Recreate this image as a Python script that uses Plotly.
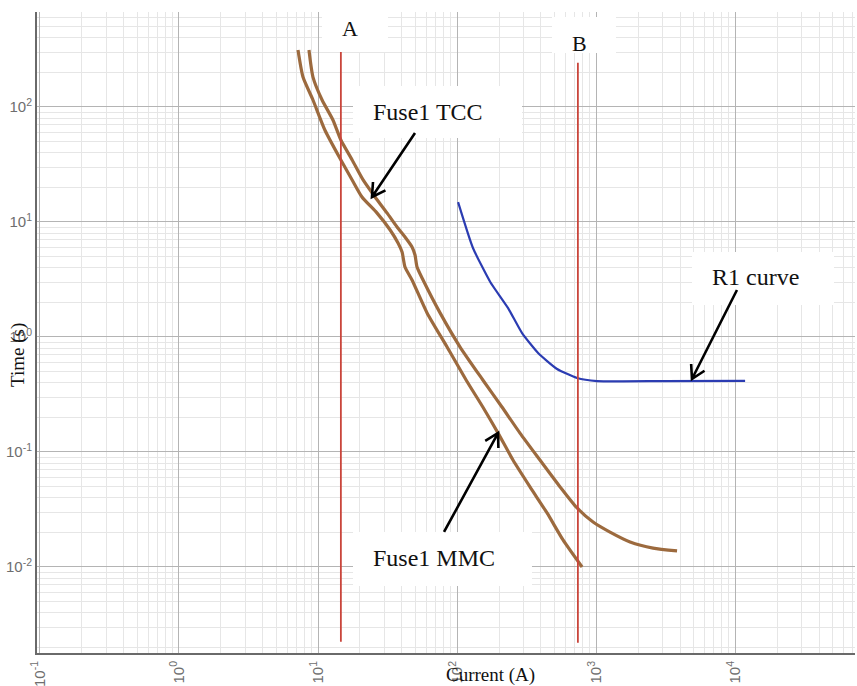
import math
import plotly.graph_objects as go

# Fuse1 total clearing curve (current in A, time in s)
tcc_current = [8.61, 9.2, 10.7, 12.8, 14.6, 17.6, 21.1, 25.7, 31.3, 37.0, 42.2, 47.4, 49.8,
               51.5, 56.9, 75.4, 105, 153, 210, 283, 394, 550, 728, 949, 1256, 1750, 2560, 3810]
tcc_time = [313, 182, 115, 77.1, 51.6, 34.6, 23.2, 16.5, 12.0, 9.04, 7.4, 6.06, 5.16,
            4.06, 3.13, 1.62, 0.818, 0.423, 0.246, 0.146, 0.0851, 0.0497, 0.0326, 0.0246,
            0.0201, 0.0165, 0.0146, 0.0138]

# Fuse1 minimum melting curve
mmc_current = [7.18, 7.8, 9.2, 11.2, 14.6, 17.6, 20.7, 26.5, 33.0, 37.6, 40.2, 42.2, 47.4,
               60.8, 84.7, 116, 153, 197, 252, 334, 443, 577, 791]
mmc_time = [313, 182, 115, 63.1, 34.6, 23.2, 16.5, 12.0, 8.52, 6.56, 5.48, 4.06, 3.13,
            1.62, 0.818, 0.423, 0.246, 0.146, 0.0851, 0.0497, 0.0295, 0.0172, 0.0100]

# Relay R1 curve
r1_current = [101.6, 130, 173, 232, 293, 382, 523, 728, 1014, 3020, 11750]
r1_time = [14.9, 5.94, 3.01, 1.79, 1.08, 0.726, 0.527, 0.44, 0.414, 0.414, 0.416]

# Fault-current markers A and B
marker_a_current = 14.6
marker_a_time = [0.00224, 300]
marker_b_current = 738
marker_b_time = [0.00219, 243]

x_tick_exponents = [-1, 0, 1, 2, 3, 4]
y_tick_exponents = [-2, -1, 0, 1, 2]

BROWN = "#9c6a3e"
BLUE = "#2b3cb2"
RED = "#c9453b"

# Plot-area size in pixels (used to turn pixel offsets into paper units)
PLOT_W, PLOT_H = 818, 641

fig = go.Figure()
fig.add_trace(go.Scatter(x=tcc_current, y=tcc_time, mode="lines",
                         line=dict(color=BROWN, width=3.2, shape="spline", smoothing=0.6),
                         name="Fuse1 TCC"))
fig.add_trace(go.Scatter(x=mmc_current, y=mmc_time, mode="lines",
                         line=dict(color=BROWN, width=3.2, shape="spline", smoothing=0.6),
                         name="Fuse1 MMC"))
fig.add_trace(go.Scatter(x=r1_current, y=r1_time, mode="lines",
                         line=dict(color=BLUE, width=2.2, shape="spline", smoothing=0.5),
                         name="R1 curve"))
fig.add_trace(go.Scatter(x=[marker_a_current] * 2, y=marker_a_time, mode="lines",
                         line=dict(color=RED, width=1.8), name="A"))
fig.add_trace(go.Scatter(x=[marker_b_current] * 2, y=marker_b_time, mode="lines",
                         line=dict(color=RED, width=1.8), name="B"))


def sup_label(p):
    return "10<sup>%d</sup>" % p


def minor_vals(exps):
    vals = []
    for e in range(min(exps) - 1, max(exps) + 2):
        for m in range(2, 10):
            vals.append(m * 10 ** e)
    return vals


tick_font = dict(family="Liberation Sans, Arial, sans-serif", size=15, color="#6e6e6e")
axis_common = dict(
    type="log",
    tickmode="array",
    showgrid=True,
    gridcolor="#b4b4b4",
    gridwidth=1,
    showline=True,
    linecolor="#6a6a6a",
    linewidth=2,
    ticks="",
    zeroline=False,
    automargin=False,
    tickfont=tick_font,
)

fig.update_xaxes(
    **axis_common,
    range=[-1.02, 4.86],
    tickvals=[10 ** e for e in x_tick_exponents],
    ticktext=[sup_label(e) for e in x_tick_exponents],
    tickangle=-90,
    minor=dict(tickmode="array", tickvals=minor_vals(x_tick_exponents),
               showgrid=True, gridcolor="#e6e6e6", gridwidth=1),
)
fig.update_yaxes(
    **axis_common,
    range=[-2.748, 2.826],
    tickvals=[10 ** e for e in y_tick_exponents],
    ticktext=[sup_label(e) for e in y_tick_exponents],
    minor=dict(tickmode="array", tickvals=minor_vals(y_tick_exponents),
               showgrid=True, gridcolor="#e6e6e6", gridwidth=1),
)

label_font = dict(family="Liberation Serif, Times New Roman, serif", size=24, color="#111111")
letter_font = dict(family="Liberation Serif, Times New Roman, serif", size=22, color="#111111")

# White label boxes (paper coordinates) with their text
boxes = [
    ("A", (0.3484, 0.4291, 0.9376, 1.0187), (0.3826, 0.975), letter_font),
    ("B", (0.6296, 0.7078, 0.9360, 0.9922), (0.6638, 0.9516), letter_font),
    ("Fuse1 TCC", (0.3863, 0.5929, 0.8034, 0.8846), (0.478, 0.844), label_font),
    ("R1 curve", (0.8007, 0.9743, 0.5429, 0.6256), (0.8778, 0.5866), label_font),
    ("Fuse1 MMC", (0.3863, 0.6051, 0.1045, 0.1888), (0.4853, 0.1482), label_font),
]
for text, (x0, x1, y0, y1), (tx, ty), font in boxes:
    fig.add_shape(type="rect", xref="paper", yref="paper", x0=x0, x1=x1, y0=y0, y1=y1,
                  fillcolor="white", line=dict(width=0), layer="above")
    fig.add_annotation(text=text, xref="paper", yref="paper", x=tx, y=ty,
                       showarrow=False, font=font, xanchor="center", yanchor="middle")

# Pointer arrows with open V heads: (tail, tip) in paper coordinates
arrows = [
    ((0.4621, 0.8112), (0.4095, 0.7114)),   # Fuse1 TCC
    ((0.8557, 0.5663), (0.8007, 0.4275)),   # R1 curve
    ((0.4976, 0.1888), (0.5636, 0.3432)),   # Fuse1 MMC
]
BARB_PX = 15
for (tx0, ty0), (hx, hy) in arrows:
    # direction from tip back to tail, in pixels
    dx = (tx0 - hx) * PLOT_W
    dy = (ty0 - hy) * PLOT_H
    n = math.hypot(dx, dy)
    ux, uy = dx / n, dy / n
    barbs = []
    for ang in (math.radians(30), math.radians(-30)):
        bx = BARB_PX * (ux * math.cos(ang) - uy * math.sin(ang))
        by = BARB_PX * (ux * math.sin(ang) + uy * math.cos(ang))
        barbs.append((hx + bx / PLOT_W, hy + by / PLOT_H))
    path = (f"M {tx0},{ty0} L {hx},{hy} "
            f"M {barbs[0][0]},{barbs[0][1]} L {hx},{hy} L {barbs[1][0]},{barbs[1][1]}")
    fig.add_shape(type="path", xref="paper", yref="paper", path=path,
                  line=dict(color="black", width=2.6), layer="above")

title_font = dict(family="Liberation Serif, Times New Roman, serif", size=19, color="#111111")
fig.add_annotation(text="Time (s)", xref="paper", yref="paper", x=-0.0232, y=0.4649,
                   textangle=-90, showarrow=False, font=title_font,
                   xanchor="center", yanchor="middle")
fig.add_annotation(text="Current (A)", xref="paper", yref="paper", x=0.5538, y=-0.0343,
                   showarrow=False, font=title_font, xanchor="center", yanchor="middle")

fig.update_layout(
    width=857,
    height=686,
    margin=dict(l=37, r=2, t=12, b=33, autoexpand=False),
    plot_bgcolor="white",
    paper_bgcolor="white",
    showlegend=False,
)

fig.write_html("out.html")
